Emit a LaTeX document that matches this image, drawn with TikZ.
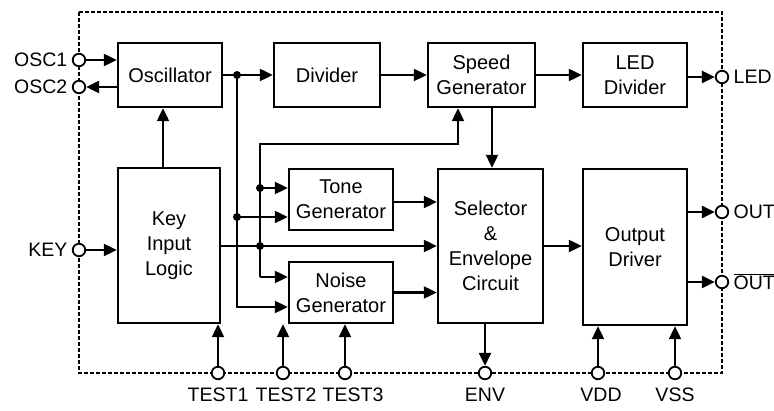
\documentclass[tikz,border=0pt]{standalone}
\usepackage{fontspec}
\setmainfont{Liberation Sans}
\usetikzlibrary{arrows.meta, positioning, calc}

\begin{document}
\begin{tikzpicture}[
  x=1pt, y=-1pt,
  every node/.style={font=\fontsize{20}{25}\selectfont},
  block/.style={rectangle, draw, line width=2.4pt, align=center, inner sep=0pt,
    minimum width=104pt, minimum height=64pt},
  tall/.style={block, minimum height=155pt},
  gen/.style={block, minimum height=61pt},
  pad/.style={circle, draw, fill=white, line width=1.8pt, minimum size=12.5pt, inner sep=0pt},
  padtext/.style={font=\fontsize{19.5}{22}\selectfont},
  joint/.style={circle, fill, minimum size=8pt, inner sep=0pt},
  wire/.style={line width=2.2pt},
  arrow/.style={wire, -{Triangle[length=13pt, width=12pt]}},
  border/.style={line width=1.6pt, dash pattern=on 4pt off 2pt}
]
\useasboundingbox (0,0) rectangle (774,411);

\node[block] (osc) at (170,75) {Oscillator};
\node[block, minimum width=106pt] (div) at (327,75) {Divider};
\node[block, minimum width=107pt] (spd) at (481.5,75) {Speed\\Generator};
\node[block] (ledd) at (635,75) {LED\\Divider};
\node[tall, minimum width=102pt] (key) at (169,245.5) {Key\\Input\\Logic};
\node[gen] (tone) at (341,199.5) {Tone\\Generator};
\node[gen] (noise) at (341,292.5) {Noise\\Generator};
\node[tall, minimum width=105pt, minimum height=154pt] (sel) at (490.5,246) {Selector\\\&\\Envelope\\Circuit};
\node[tall, minimum height=156pt] (outd) at (635,247) {Output\\Driver};

\draw[border] (79,12) rectangle (722,373);

\node[pad, label={[padtext, label distance=1pt]left:OSC1}] (osc1) at (79,60) {};
\node[pad, label={[padtext, label distance=1pt]left:OSC2}] (osc2) at (79,87) {};
\node[pad, label={[padtext, label distance=1pt]left:KEY}] (keyin) at (79,250) {};
\node[pad, label={[padtext, label distance=1pt]right:LED}] (led) at (722,77) {};
\node[pad, label={[padtext, label distance=1pt]right:OUT}] (out) at (722,212) {};
\node[pad, label={[padtext, label distance=1pt]right:$\overline{\mbox{OUT}}$}] (outb) at (722,282) {};
\node[pad, label={[padtext, label distance=4pt]below:TEST1}] (test1) at (218,373) {};
\node[pad, label={[padtext, label distance=4pt, xshift=3pt]below:TEST2}] (test2) at (283,373) {};
\node[pad, label={[padtext, label distance=4pt, xshift=8pt]below:TEST3}] (test3) at (345,373) {};
\node[pad, label={[padtext, label distance=4pt]below:ENV}] (env) at (485,373) {};
\node[pad, label={[padtext, label distance=4pt, xshift=3pt]below:VDD}] (vdd) at (598,373) {};
\node[pad, label={[padtext, label distance=4pt]below:VSS}] (vss) at (675,373) {};

\node[joint] (j1) at (237,75) {};
\node[joint] (j2) at (237,217) {};
\node[joint] (j3) at (260,188) {};
\node[joint] (j4) at (260,246) {};
\coordinate (b1) at (237,307);
\coordinate (b2) at (260,144);
\coordinate (b3) at (260,277);

\draw[arrow] (osc1) -- (osc1 -| osc.west);
\draw[arrow] (osc2 -| osc.west) -- (osc2);
\draw[arrow] (keyin) -- (keyin -| key.west);
\draw[arrow] ([xshift=-6pt]key.north) -- ([xshift=-6pt]key.north |- osc.south);
\draw[arrow] (osc.east) -- (div.west);
\draw[arrow] (div) -- (spd);
\draw[arrow] (spd) -- (ledd);
\draw[arrow] (ledd.east |- led) -- (led);

\draw[arrow] (j1.center) -- (b1) -- (b1 -| noise.west);
\draw[arrow] (j2.center) -- (j2 -| tone.west);
\draw[arrow] (b3) -- (b2) -| ([xshift=-23.5pt]spd.south);
\draw[arrow] (b3) -- (b3 -| noise.west);
\draw[arrow] (j3.center) -- (j3 -| tone.west);
\draw[arrow] (key.east |- j4) -- (sel.west |- j4);

\draw[arrow] ([xshift=10.5pt]spd.south) -- ([xshift=10.5pt]spd.south |- sel.north);
\draw[arrow] ([yshift=-2.5pt]tone.east) -- ([yshift=-2.5pt]tone.east -| sel.west);
\draw[arrow] (noise.east) -- (noise.east -| sel.west);
\draw[arrow] (sel.east) -- (sel.east -| outd.west);
\draw[arrow] (outd.east |- out) -- (out);
\draw[arrow] (outd.east |- outb) -- (outb);
\draw[arrow] (sel.south -| env) -- (env);

\draw[arrow] (test1) -- (test1 |- key.south);
\draw[arrow] (test2) -- (test2 |- noise.south);
\draw[arrow] (test3) -- (test3 |- noise.south);
\draw[arrow] (vdd) -- (vdd |- outd.south);
\draw[arrow] (vss) -- (vss |- outd.south);
\end{tikzpicture}
\end{document}
